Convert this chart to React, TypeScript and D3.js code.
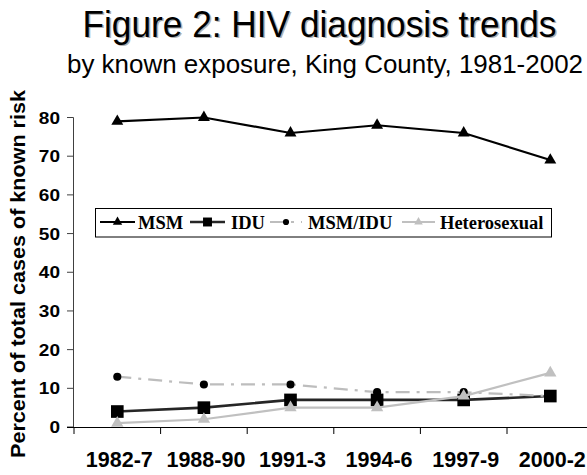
import React from "react";
import * as d3 from "d3";

const categories = ["1982-7", "1988-90", "1991-3", "1994-6", "1997-9", "2000-2"];
const msm = [79, 80, 76, 78, 76, 69];
const idu = [4, 5, 7, 7, 7, 8];
const msmIdu = [13, 11, 11, 9, 9, 8];
const hetero = [1, 2, 5, 5, 8, 14];
const yTicks = [0, 10, 20, 30, 40, 50, 60, 70, 80];
const seriesNames = ["MSM", "IDU", "MSM/IDU", "Heterosexual"];

const W = 587;
const H = 475;

type Series = {
  name: string;
  values: number[];
  stroke: string;
  width: number;
  dash?: string;
  marker: d3.SymbolType;
  markerSize: number;
  legendMarkerSize: number;
  markerFill: string;
};

export default function App() {
  const x = d3.scaleBand<string>().domain(categories).range([74, 74 + 6 * 86.6]);
  const y = d3.scaleLinear().domain([0, 80]).range([427, 117.5]);
  const cx = (c: string) => (x(c) as number) + x.bandwidth() / 2;

  const series: Series[] = [
    { name: seriesNames[0], values: msm, stroke: "#000", width: 2.2, marker: d3.symbolTriangle, markerSize: 62, legendMarkerSize: 38, markerFill: "#000" },
    { name: seriesNames[1], values: idu, stroke: "#262626", width: 2.6, marker: d3.symbolSquare, markerSize: 160, legendMarkerSize: 80, markerFill: "#000" },
    { name: seriesNames[2], values: msmIdu, stroke: "#bdbdbd", width: 2.2, dash: "14,7,3,7", marker: d3.symbolCircle, markerSize: 52, legendMarkerSize: 30, markerFill: "#000" },
    { name: seriesNames[3], values: hetero, stroke: "#c0c0c0", width: 2.2, marker: d3.symbolTriangle, markerSize: 66, legendMarkerSize: 32, markerFill: "#c0c0c0" },
  ];

  const line = d3
    .line<number>()
    .x((_, i) => cx(categories[i]))
    .y((v) => y(v));

  const legendItems = [
    { lx0: 100, lx1: 135, tx: 138 },
    { lx0: 190, lx1: 225, tx: 231 },
    { lx0: 270, lx1: 302, tx: 308 },
    { lx0: 402, lx1: 435, tx: 440 },
  ];

  const boundaries = d3.range(categories.length + 1).map((i) => 74 + i * x.step());

  return (
    <svg
      width={W}
      height={H}
      style={{ position: "absolute", left: 0, top: 0, background: "#fff" }}
      viewBox={`0 0 ${W} ${H}`}
    >
      <rect x={0} y={0} width={W} height={H} fill="#fff" />
      {/* Title with shadow */}
      <g fontFamily="'Liberation Sans', Arial, sans-serif">
        <text x={84} y={38} fontSize={36} fill="#b0b0b0" textLength={474} lengthAdjust="spacingAndGlyphs">
          Figure 2: HIV diagnosis trends
        </text>
        <text x={82.5} y={36.5} fontSize={36} fill="#000" textLength={474} lengthAdjust="spacingAndGlyphs">
          Figure 2: HIV diagnosis trends
        </text>
        <text x={67} y={73} fontSize={26} fill="#000" textLength={516} lengthAdjust="spacingAndGlyphs">
          by known exposure, King County, 1981-2002
        </text>
      </g>

      {/* Y axis label */}
      <text
        transform="translate(25,274) rotate(-90)"
        textAnchor="middle"
        fontFamily="'Liberation Sans', Arial, sans-serif"
        fontWeight="bold"
        fontSize={19.5}
        textLength={368}
        lengthAdjust="spacingAndGlyphs"
      >
        Percent of total cases of known risk
      </text>

      {/* Y axis */}
      <line x1={73.5} x2={73.5} y1={y(80)} y2={y(0)} stroke="#404040" strokeWidth={1} />
      {yTicks.map((t) => (
        <g key={t}>
          <line x1={67} x2={73.5} y1={y(t)} y2={y(t)} stroke="#404040" strokeWidth={1} />
          <text
            x={60}
            y={y(t)}
            dy="0.36em"
            textAnchor="end"
            fontFamily="'Liberation Sans', Arial, sans-serif"
            fontWeight="bold"
            fontSize={17}
            transform={`translate(60,0) scale(1.12,1) translate(-60,0)`}
          >
            {t}
          </text>
        </g>
      ))}

      {/* X axis */}
      <line x1={67} x2={W} y1={427.5} y2={427.5} stroke="#000" strokeWidth={1} />
      {boundaries.map((b, i) => (
        <line key={i} x1={b} x2={b} y1={427.5} y2={434} stroke="#000" strokeWidth={1} />
      ))}
      {categories.map((c) => (
        <text
          key={c}
          x={cx(c) + 2}
          y={467}
          textAnchor="middle"
          fontFamily="'Liberation Sans', Arial, sans-serif"
          fontWeight="bold"
          fontSize={21.5}
        >
          {c}
        </text>
      ))}

      {/* Series */}
      {series.map((s) => (
        <g key={s.name}>
          <path
            d={line(s.values) as string}
            fill="none"
            stroke={s.stroke}
            strokeWidth={s.width}
            strokeDasharray={s.dash}
          />
          {s.values.map((v, i) => (
            <path
              key={i}
              d={d3.symbol(s.marker, s.markerSize)() as string}
              transform={`translate(${cx(categories[i])},${y(v)})`}
              fill={s.markerFill}
            />
          ))}
        </g>
      ))}

      {/* Legend */}
      <rect x={95.5} y={208.5} width={456} height={28.5} fill="#fff" stroke="#000" strokeWidth={1} />
      {series.map((s, i) => {
        const it = legendItems[i];
        const my = 222;
        return (
          <g key={s.name}>
            <line
              x1={it.lx0}
              x2={it.lx1}
              y1={my}
              y2={my}
              stroke={s.stroke}
              strokeWidth={s.width}
              strokeDasharray={s.dash}
            />
            <path
              d={d3.symbol(s.marker, s.legendMarkerSize)() as string}
              transform={`translate(${(it.lx0 + it.lx1) / 2},${my})`}
              fill={s.markerFill}
            />
            <text
              x={it.tx}
              y={228.5}
              fontFamily="'Liberation Serif', 'Times New Roman', serif"
              fontWeight="bold"
              fontSize={18.5}
            >
              {s.name}
            </text>
          </g>
        );
      })}
    </svg>
  );
}
